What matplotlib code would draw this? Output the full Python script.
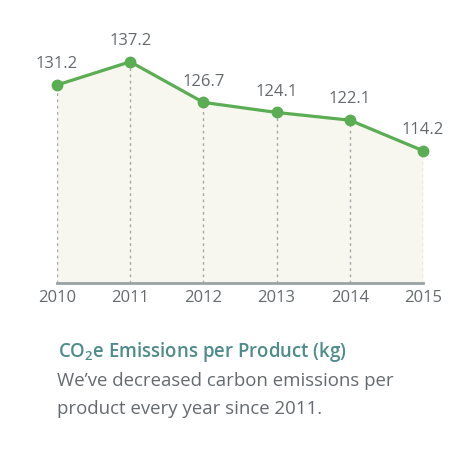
import matplotlib
matplotlib.use("Agg")
import matplotlib.pyplot as plt

years = [2010, 2011, 2012, 2013, 2014, 2015]
values = [131.2, 137.2, 126.7, 124.1, 122.1, 114.2]
value_labels = ["131.2", "137.2", "126.7", "124.1", "122.1", "114.2"]
title = r"CO$_\mathbf{2}$e Emissions per Product (kg)"
subtitle = ["We\u2019ve decreased carbon emissions per", "product every year since 2011."]

plt.rcParams["mathtext.fontset"] = "custom"
plt.rcParams["mathtext.rm"] = "Open Sans"
plt.rcParams["mathtext.bf"] = "Open Sans:semibold"

W, H = 470, 468
fig = plt.figure(figsize=(W / 100, H / 100), dpi=100)
fig.patch.set_facecolor("white")

def fx(px):
    return px / W

def fy(py):
    return 1 - py / H

ax = fig.add_axes([fx(57), fy(283), fx(423) - fx(57), fy(20) - fy(283)])
ax.set_xlim(years[0], years[-1])
ax.set_ylim(80, 148)
ax.set_facecolor("none")

green = "#5aad52"
gray_txt = "#656a70"
ax.fill_between(years, values, 80, color="#f8f7ef", zorder=1, lw=0)
for x, v in zip(years, values):
    ax.plot([x, x], [80, v], color="#a5a8ab", lw=1, ls=(0, (2, 2.5)), zorder=2)
ax.plot(years, values, color=green, lw=2.3, marker="o", ms=7.5, zorder=4, clip_on=False)

font = ["Open Sans", "DejaVu Sans"]
for x, v, lab in zip(years, values, value_labels):
    ax.annotate(lab, (x, v), xytext=(0, 15), textcoords="offset points",
                ha="center", va="center", fontsize=12, color=gray_txt, family=font)

for s in ["top", "right", "left"]:
    ax.spines[s].set_visible(False)
ax.spines["bottom"].set_color("#9aa2a6")
ax.spines["bottom"].set_linewidth(2)
ax.set_yticks([])
ax.set_xticks(years)
ax.set_xticklabels([str(y) for y in years], fontsize=12, color=gray_txt, family=font)
ax.tick_params(axis="x", length=0, pad=5)

fig.text(fx(58), fy(352), title, fontsize=13.4, color="#4e8c8b", fontweight="semibold",
         family=font, ha="left", va="center")
fig.text(fx(57), fy(381), subtitle[0], fontsize=13.4, color=gray_txt, family=font, ha="left", va="center")
fig.text(fx(57), fy(409), subtitle[1], fontsize=13.4, color=gray_txt, family=font, ha="left", va="center")

fig.savefig("out.png", dpi=100, facecolor="white")
